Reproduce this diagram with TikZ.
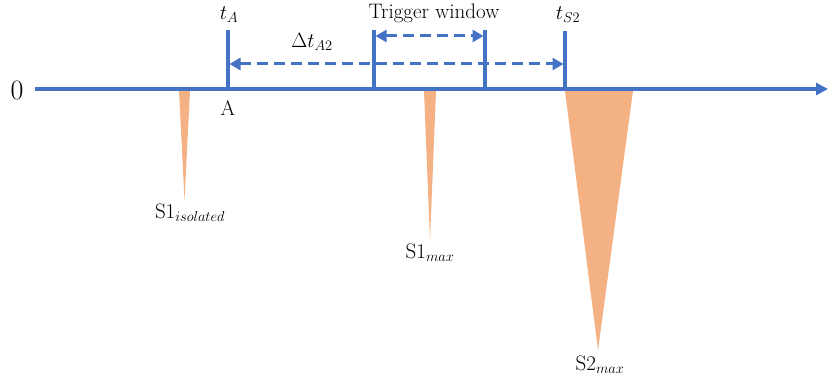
\documentclass[tikz,border=0pt]{standalone}
\usepackage{amsmath}
\usepackage{fontspec}
\usetikzlibrary{arrows.meta, positioning, calc}

\definecolor{axisblue}{HTML}{4472C4}
\definecolor{peakorange}{HTML}{F4B183}

\begin{document}
\begin{tikzpicture}[
		x=1pt, y=-1pt,
		axis/.style={axisblue, line width=4pt},
		marker/.style={axisblue, line width=3.2pt},
		span/.style={axisblue, line width=3pt, dash pattern=on 11pt off 6pt, {Triangle[length=11pt, width=12pt]}-{Triangle[length=11pt, width=12pt]}, shorten <=1.5pt, shorten >=1.5pt},
		peak/.style={fill=peakorange, draw=none},
		lbl/.style={font=\fontsize{21}{25}\selectfont, inner sep=1pt},
		big/.style={font=\fontsize{28}{32}\selectfont, inner sep=1pt}
		]
		\useasboundingbox (0,0) rectangle (828,379);
		
		% Coordinates
		\coordinate (start) at (35,89);
		\coordinate (end) at (828,89);
		\coordinate (aTop) at (228,30);
		\coordinate (aBot) at (228,89);
		\coordinate (wlTop) at (374,30);
		\coordinate (wlBot) at (374,89);
		\coordinate (wrTop) at (485,30);
		\coordinate (wrBot) at (485,89);
		\coordinate (sTop) at (565,31);
		\coordinate (sBot) at (565,89);
		
		% Peaks
		\fill[peak] (179,91) -- (190,91) -- (184.5,200) -- cycle;
		\fill[peak] (424,91) -- (436,91) -- (430,240) -- cycle;
		\fill[peak] (565,91) -- (633,91) -- (598,350) -- cycle;
		
		% Axis and markers
		\draw[axis, -{Triangle[length=12pt, width=12pt]}] (start) -- (end);
		\draw[marker] (aTop) -- (aBot);
		\draw[marker] (wlTop) -- (wlBot);
		\draw[marker] (wrTop) -- (wrBot);
		\draw[marker] (sTop) -- (sBot);
		
		% Arrows
		\draw[span] ($(wlTop)+(0,6)$) -- ($(wrTop)+(0,6)$);
		\draw[span] ($(aTop)+(0,34)$) -- ($(sTop)+(0,33)$);
		
		% Labels
		\node[big] (zero) at (17,90) {0};
		\node[lbl] (a) at (228,108) {A};
		\node[lbl] (tA) at (229,15) {$t_A$};
		\node[lbl] (trig) at (434,13) {Trigger window};
		\node[lbl] (tS) at (568,15) {$t_{S2}$};
		\node[lbl] (dt) at (312,42) {$\Delta t_{A2}$};
		\node[lbl] (s1i) at (190,213) {S1$_{isolated}$};
		\node[lbl] (s1m) at (430,253) {S1$_{max}$};
		\node[lbl] (s2m) at (600,365) {S2$_{max}$};
		
	\end{tikzpicture}
\end{document}
